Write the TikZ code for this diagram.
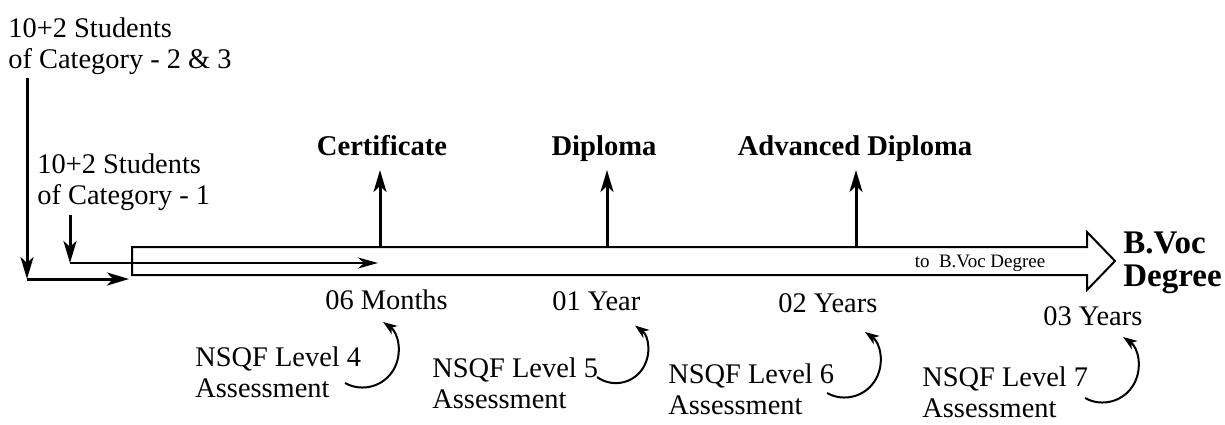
\documentclass[tikz,border=0pt]{standalone}
\usepackage{fontspec}
\setmainfont{Liberation Serif}
\usetikzlibrary{arrows.meta,calc}
\begin{document}
\begin{tikzpicture}[x=0.5pt,y=-0.5pt,
  lbl/.style={inner sep=0pt, font=\fontsize{14.2}{15.5}\selectfont},
  ttl/.style={inner sep=0pt, font=\fontsize{14.3}{15.5}\selectfont\bfseries},
  big/.style={inner sep=0pt, font=\fontsize{16.5}{16.5}\selectfont\bfseries},
  small/.style={inner sep=0pt, font=\fontsize{9.5}{11}\selectfont},
  thickarr/.style={line width=1.5pt, -{Stealth[length=11pt,width=6.5pt,inset=3pt]}},
  thinarr/.style={line width=1pt, -{Stealth[length=10pt,width=5.5pt,inset=3pt]}},
  assess/.style={line width=1pt, -{Stealth[length=7pt,width=5pt,inset=2pt]}},
  body/.style={line width=1pt, line join=miter}
]
\useasboundingbox (0,0) rectangle (1225,424);

% entry labels (base anchor = baseline of last line)
\node[lbl, anchor=base west, align=left] (cat23) at (8,68) {10+2 Students\\of Category - 2 \& 3};
\node[lbl, anchor=base west, align=left] (cat1) at (37,204) {10+2 Students\\of Category - 1};

% main arrow
\draw[body] (132,247) -- (1087,247) -- (1087,232) -- (1115,261) -- (1087,290) -- (1087,275) -- (132,275) -- cycle;
\node[small, anchor=base] (to) at (980,267) {to\ \ B.Voc Degree};
\node[big, anchor=base west, align=left] (bvoc) at (1123,286) {B.Voc\\Degree};

% entry connectors
\coordinate (c23top) at (27,78);
\coordinate (c23corner) at (27,279);
\coordinate (c23end) at (129,279);
\coordinate (c1top) at (70,215);
\coordinate (c1corner) at (70,263);
\coordinate (c1end) at (378,263);
\draw[thickarr] (c23top) -- (c23corner);
\draw[thickarr] (c23corner) -- (c23end);
\draw[thickarr] (c1top) -- (c1corner);
\draw[thinarr] (c1corner) -- (c1end);

% exit points
\node[ttl, anchor=base] (cert) at (382,155) {Certificate};
\node[ttl, anchor=base] (dipl) at (604,155) {Diploma};
\node[ttl, anchor=base] (adv) at (855,155) {Advanced Diploma};
\coordinate (p1) at (380,247); \coordinate (t1) at (380,170);
\coordinate (p2) at (607,247); \coordinate (t2) at (607,170);
\coordinate (p3) at (856,247); \coordinate (t3) at (856,170);
\draw[thickarr] (p1) -- (t1);
\draw[thickarr] (p2) -- (t2);
\draw[thickarr] (p3) -- (t3);

% durations
\node[lbl, anchor=base west] (m06) at (325,309) {06 Months};
\node[lbl, anchor=base west] (y01) at (552,310) {01 Year};
\node[lbl, anchor=base west] (y02) at (778,312) {02 Years};
\node[lbl, anchor=base west] (y03) at (1043,325) {03 Years};

% assessments
\node[lbl, anchor=base west, align=left] (n4) at (195,397) {NSQF Level 4\\Assessment};
\node[lbl, anchor=base west, align=left] (n5) at (432,408) {NSQF Level 5\\Assessment};
\node[lbl, anchor=base west, align=left] (n6) at (668,414) {NSQF Level 6\\Assessment};
\node[lbl, anchor=base west, align=left] (n7) at (922,417) {NSQF Level 7\\Assessment};

\coordinate (a4) at (345,383);
\coordinate (a5) at (597,377);
\coordinate (a6) at (827,393);
\coordinate (a7) at (1085,398);
\draw[assess] (a4) arc[start angle=-119, end angle=55, radius=18pt];
\draw[assess] (a5) arc[start angle=-126, end angle=53, radius=16pt];
\draw[assess] (a6) arc[start angle=-119, end angle=55, radius=18pt];
\draw[assess] (a7) arc[start angle=-119, end angle=55, radius=18pt];
\end{tikzpicture}
\end{document}
